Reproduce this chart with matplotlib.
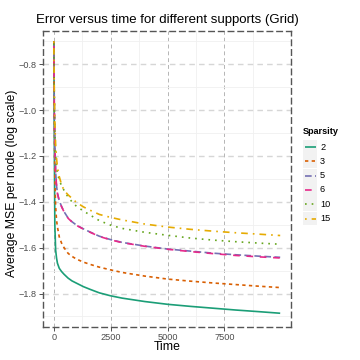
import numpy as np
import matplotlib
matplotlib.use("Agg")
import matplotlib.pyplot as plt
from matplotlib.patches import Rectangle
from matplotlib.lines import Line2D

plt.rcParams['font.family'] = ['Liberation Sans', 'DejaVu Sans']

# values (log10 of average MSE per node)
time = [1, 20, 45, 80, 120, 160, 240, 340, 450, 630, 800, 1000, 1300, 1600,
        2000, 2500, 3000, 4000, 5000, 6000, 7000, 8000, 9000, 9950]
mse_2 = [-0.70, -1.10, -1.50, -1.61, -1.645, -1.668, -1.69, -1.704, -1.716, -1.733,
         -1.745, -1.755, -1.77, -1.782, -1.797, -1.81, -1.82, -1.835, -1.847, -1.856,
         -1.864, -1.872, -1.879, -1.886]
mse_3 = [-0.70, -1.00, -1.30, -1.42, -1.48, -1.51, -1.553, -1.58, -1.60, -1.625,
         -1.638, -1.65, -1.663, -1.673, -1.685, -1.697, -1.708, -1.724, -1.737, -1.746,
         -1.754, -1.761, -1.768, -1.774]
mse_5 = [-0.71, -0.95, -1.15, -1.27, -1.33, -1.363, -1.395, -1.42, -1.443, -1.471,
         -1.487, -1.502, -1.518, -1.532, -1.55, -1.565, -1.577, -1.593, -1.606, -1.615,
         -1.624, -1.631, -1.637, -1.642]
mse_6 = [-0.72, -0.96, -1.16, -1.27, -1.33, -1.364, -1.396, -1.421, -1.444, -1.472,
         -1.488, -1.503, -1.519, -1.533, -1.551, -1.566, -1.578, -1.594, -1.607, -1.617,
         -1.626, -1.634, -1.640, -1.645]
mse_10 = [-0.71, -0.93, -1.10, -1.20, -1.25, -1.275, -1.305, -1.33, -1.35, -1.38,
          -1.40, -1.42, -1.44, -1.458, -1.482, -1.502, -1.516, -1.533, -1.546, -1.558,
          -1.567, -1.574, -1.58, -1.585]
mse_15 = [-0.70, -0.90, -1.05, -1.15, -1.21, -1.25, -1.29, -1.325, -1.35, -1.37,
          -1.385, -1.403, -1.422, -1.437, -1.455, -1.468, -1.479, -1.497, -1.51, -1.52,
          -1.528, -1.535, -1.541, -1.547]

sparsity = ['2', '3', '5', '6', '10', '15']
series = [mse_2, mse_3, mse_5, mse_6, mse_10, mse_15]
colors = ['#1B9E77', '#D95F02', '#7570B3', '#E7298A', '#66A61E', '#E6AB02']
dashes = [None, (2, 2), (4, 2), (4, 4), (1, 3), (1, 3, 4, 3)]

fig = plt.figure(figsize=(3.6, 3.6), dpi=100)
ax = fig.add_axes([43/360, 1-327/360, 248/360, 296/360])

lw = 1.2
for vals, c, d in zip(series, colors, dashes):
    line, = ax.plot(time, vals, color=c, lw=lw, solid_capstyle='butt')
    if d is not None:
        line.set_dashes(d)

ax.set_xlim(-475, 10425)
ax.set_ylim(-1.946, -0.655)
ax.set_xticks([0, 2500, 5000, 7500])
ax.set_yticks([-0.8, -1.0, -1.2, -1.4, -1.6, -1.8])
ax.set_yticklabels(['\u22120.8', '\u22121.0', '\u22121.2', '\u22121.4', '\u22121.6', '\u22121.8'])
ax.set_xticks([1250, 3750, 6250, 8750], minor=True)
ax.set_yticks([-0.7, -0.9, -1.1, -1.3, -1.5, -1.7, -1.9], minor=True)
ax.tick_params(which='major', length=3, width=0.6, color='#333333',
               labelsize=6.6, labelcolor='#4D4D4D', pad=1.5)
ax.tick_params(which='minor', length=0)
ax.grid(True, which='minor', color='#F0F0F0', lw=0.6, ls='-')
ax.grid(True, which='major', axis='y', color='#D6D6D6', lw=1.0, ls=(0, (4, 3)))
ax.grid(True, which='major', axis='x', color='#B5B5B5', lw=0.7, ls=(0, (4, 3)))
ax.set_axisbelow(True)
for s in ax.spines.values():
    s.set_linestyle((0, (4, 3)))
    s.set_color('#555555')
    s.set_linewidth(1.0)

fig.text(167/360, 1-20/360, 'Error versus time for different supports (Grid)',
         ha='center', va='center', fontsize=9.5)
fig.text(167/360, 1-347/360, 'Time', ha='center', va='center', fontsize=8.8)
fig.text(12/360, 177/360, 'Average MSE per node (log scale)', ha='center', va='center',
         rotation=90, fontsize=8.8)

# legend
lax = fig.add_axes([0, 0, 1, 1])
lax.set_xlim(0, 360)
lax.set_ylim(360, 0)
lax.axis('off')
lax.text(303, 132, 'Sparsity', fontsize=6.6, fontweight='bold', va='center', ha='left')
for i, (lab, c, d) in enumerate(zip(sparsity, colors, dashes)):
    yc = 147 + i * 14.3
    lax.add_patch(Rectangle((303, yc - 6.9), 14, 13.8, color='#F2F2F2', lw=0))
    l = Line2D([304.5, 315.5], [yc, yc], color=c, lw=lw, solid_capstyle='butt')
    if d is not None:
        l.set_dashes(d)
    lax.add_line(l)
    lax.text(320, yc, lab, fontsize=6.6, va='center', ha='left')

fig.savefig('out.png', dpi=100, facecolor='white')
